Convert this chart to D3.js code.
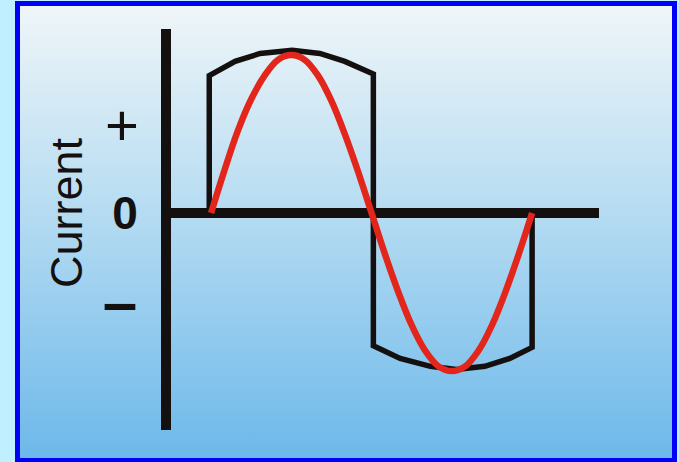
<!DOCTYPE html>
<html>
<head>
<meta charset="utf-8">
<script src="https://cdn.jsdelivr.net/npm/d3@7"></script>
<style>
  html, body { margin: 0; padding: 0; background: #c0f0ff; }
  svg { display: block; }
</style>
</head>
<body>
<div class="canvas"></div>
<script>
// phase in degrees, current in units of the sine peak
const sinePhase = [0, 15, 30, 45, 60, 75, 90, 105, 120, 135, 150, 165, 180,
  195, 210, 225, 240, 255, 270, 285, 300, 315, 330, 345, 360]
const sineValue = [0, 0.27, 0.52, 0.72, 0.87, 0.97, 1.0, 0.97, 0.87, 0.71, 0.5, 0.26, 0,
  -0.26, -0.5, -0.71, -0.87, -0.97, -1.0, -0.97, -0.87, -0.71, -0.5, -0.26, 0]

// the black "square" wave with flattened arcs
const squarePhase = [-2, -2, 27, 55, 91, 122, 150, 182, 182, 182, 212, 246, 275, 307, 335, 360, 360]
const squareValue = [0, 0.87, 0.96, 1.01, 1.03, 1.01, 0.96, 0.88, 0, -0.84, -0.92, -0.97, -0.99, -0.97, -0.92, -0.85, 0]

const tickValues = [0.56, 0, -0.56]
const tickLabels = ['+', '0', '\u2013']
const axisTitle = 'Current'

// layout
const dims = { width: 679, height: 462 }
const xDomain = [-50.5, 435]
const yDomain = [-1.373, 1.165]

const svg = d3.select('.canvas')
  .append('svg')
  .attr('width', dims.width)
  .attr('height', dims.height)

const defs = svg.append('defs')
const grad = defs.append('linearGradient')
  .attr('id', 'bg')
  .attr('x1', 0).attr('y1', 0).attr('x2', 0).attr('y2', 1)
grad.append('stop').attr('offset', '0%').attr('stop-color', '#f0f6f8')
grad.append('stop').attr('offset', '45%').attr('stop-color', '#b6dcf2')
grad.append('stop').attr('offset', '100%').attr('stop-color', '#6cb8ea')

// panel with blue frame
svg.append('rect')
  .attr('x', 17.5).attr('y', 3.5)
  .attr('width', 657).attr('height', 457)
  .attr('fill', 'url(#bg)')
  .attr('stroke', '#0000f8')
  .attr('stroke-width', 5)

const x = d3.scaleLinear().domain(xDomain).range([166, 599])
const y = d3.scaleLinear().domain(yDomain).range([430, 29])

// axes
svg.append('line')
  .attr('x1', x(xDomain[0])).attr('x2', x(xDomain[0]))
  .attr('y1', y(yDomain[1])).attr('y2', y(yDomain[0]))
  .attr('stroke', '#141010')
  .attr('stroke-width', 10)

svg.append('line')
  .attr('x1', x(xDomain[0])).attr('x2', x(xDomain[1]))
  .attr('y1', y(0)).attr('y2', y(0))
  .attr('stroke', '#141010')
  .attr('stroke-width', 10)

// waves
const line = d3.line()
  .x(d => x(d[0]))
  .y(d => y(d[1]))

svg.append('path')
  .datum(squarePhase.map((p, i) => [p, squareValue[i]]))
  .attr('d', line)
  .attr('fill', 'none')
  .attr('stroke', '#141010')
  .attr('stroke-width', 5.5)
  .attr('stroke-linejoin', 'miter')

svg.append('path')
  .datum(sinePhase.map((p, i) => [p, sineValue[i]]))
  .attr('d', line.curve(d3.curveCatmullRom))
  .attr('fill', 'none')
  .attr('stroke', '#e2261c')
  .attr('stroke-width', 6.5)

// tick labels
svg.selectAll('text.tick')
  .data(tickValues)
  .enter()
  .append('text')
  .attr('class', 'tick')
  .attr('x', (d, i) => [122, 125, 120][i])
  .attr('y', d => y(d))
  .attr('dy', '0.35em')
  .attr('text-anchor', 'middle')
  .attr('font-family', 'Liberation Sans, Arial, sans-serif')
  .attr('font-weight', (d, i) => i === 1 ? 'bold' : (i === 2 ? 'bold' : 'normal'))
  .attr('font-size', (d, i) => [58, 46, 62][i])
  .attr('fill', '#141010')
  .text((d, i) => tickLabels[i])

svg.append('text')
  .attr('transform', `translate(82, ${y(0)}) rotate(-90)`)
  .attr('text-anchor', 'middle')
  .attr('font-family', 'Liberation Sans, Arial, sans-serif')
  .attr('font-size', 45)
  .attr('fill', '#141010')
  .text(axisTitle)
</script>
</body>
</html>
